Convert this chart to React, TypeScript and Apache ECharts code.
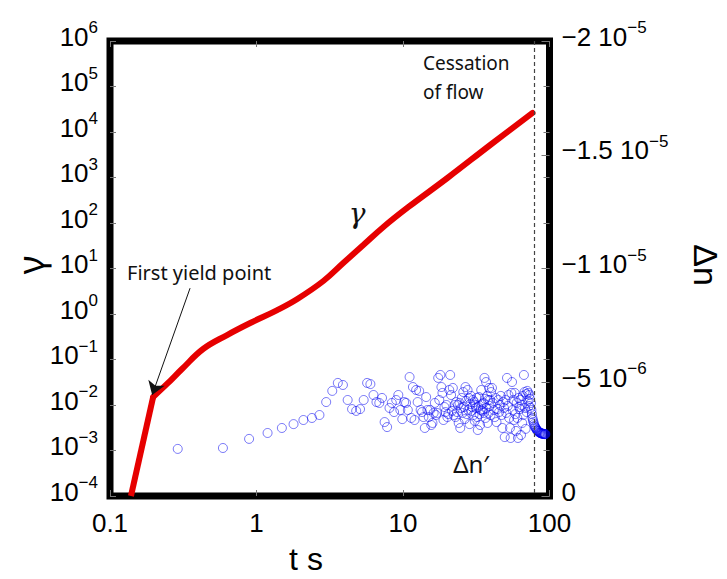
import React, { useEffect, useRef } from "react";
import * as echarts from "echarts";

// γ(t): strain vs time (s) — steep rise up to the first yield point, then the flow curve
const gammaRiseT = [0.139, 0.197];
const gammaRiseV = [1e-4, 0.015];
const gammaFlowT = [0.197, 0.245, 0.31, 0.432, 0.63, 0.906, 1.385, 1.9, 2.86, 3.91, 5.36, 7.35, 10.9, 20.1, 40.2, 76.6];
const gammaFlowV = [0.015, 0.029, 0.0618, 0.17, 0.345, 0.634, 1.22, 2.14, 5.31, 13.2, 32.8, 81.7, 225, 975, 5450, 26200];

// Δn′ (×10⁻⁶) vs time (s)
const dnEarly: number[][] = [
  [0.29, -2.07], [0.59, -2.11], [0.89, -2.51], [1.19, -2.77], [1.49, -2.99], [1.79, -3.16], [2.09, -3.34], [2.39, -3.43],
  [2.69, -3.56], [2.99, -4.13], [3.29, -4.62], [3.59, -4.97], [3.89, -4.88], [4.19, -4.22], [4.49, -3.82], [4.79, -3.74],
  [5.09, -3.82], [5.39, -4.22], [5.69, -4.97], [5.99, -4.92], [6.29, -4.44], [6.59, -4.13], [6.89, -4.09], [7.19, -4.31],
  [7.49, -3.25], [7.79, -3.03], [8.09, -3.87], [8.39, -4.09], [8.69, -3.69], [8.99, -4.22], [9.29, -4.44], [9.59, -3.78],
  [9.89, -3.38], [10.19, -4.13], [10.49, -4.09], [10.79, -3.78], [11.09, -5.23], [11.39, -3.43], [11.69, -4.79], [11.99, -3.34],
  [12.29, -4.66], [12.59, -4.13], [12.89, -4.62], [13.19, -3.78], [13.49, -3.69], [13.79, -3.47], [14.09, -2.99], [14.39, -4.35],
  [14.69, -3.78], [14.99, -3.47], [15.29, -3.78], [15.59, -3.12], [15.89, -3.21], [16.19, -3.65], [16.49, -4.09], [16.79, -3.56],
  [17.09, -3.65], [17.39, -5.19], [17.69, -4.22], [17.99, -5.32], [18.29, -4.79], [18.59, -4.53], [18.89, -3.34], [19.19, -3.91],
  [19.49, -3.69], [19.79, -4.0], [20.09, -3.47], [20.39, -3.6], [20.69, -4.66],
];
const dnMid: number[][] = [
  [20.99, -5.32], [21.29, -4.44], [21.59, -3.74], [21.89, -4.75], [22.19, -3.56], [22.49, -4.0], [22.79, -3.47], [23.09, -4.13],
  [23.39, -3.69], [23.69, -4.0], [23.99, -3.21], [24.29, -4.09], [24.59, -2.99], [24.89, -3.87], [25.19, -4.31], [25.49, -3.65],
  [25.79, -4.57], [26.09, -3.91], [26.39, -3.38], [26.69, -4.79], [26.99, -4.18], [27.29, -3.6], [27.59, -4.66], [27.89, -3.78],
  [28.19, -4.31], [28.49, -3.16], [28.79, -4.04], [29.09, -4.4], [29.39, -3.74], [29.69, -3.91], [29.99, -4.22], [30.29, -3.56],
  [30.59, -4.13], [30.89, -3.3], [31.19, -4.0], [31.49, -3.87], [31.79, -4.31], [32.09, -3.47], [32.39, -2.9], [32.69, -3.91],
  [32.99, -4.35], [33.29, -3.6], [33.59, -3.12], [33.89, -3.78], [34.19, -4.66], [34.49, -4.04], [34.79, -3.74], [35.09, -3.82],
  [35.39, -4.09], [35.69, -3.65], [35.99, -5.19], [36.29, -4.27], [36.59, -3.43], [36.89, -5.01], [37.19, -3.87], [37.49, -4.4],
  [37.79, -3.21], [38.09, -4.22], [38.39, -3.65], [38.69, -4.75], [38.99, -3.96], [39.29, -4.22], [39.59, -3.56], [39.89, -4.57],
];
const dnLate: number[][] = [
  [40.49, -4.75], [41.09, -4.09], [41.69, -3.78], [42.29, -3.47], [42.89, -4.31], [43.49, -3.25], [44.09, -3.82], [44.69, -4.22],
  [45.29, -3.69], [45.89, -4.0], [46.49, -4.4], [47.09, -3.56], [47.69, -2.99], [48.29, -4.13], [48.89, -3.87], [49.49, -2.59],
  [50.09, -4.22], [50.69, -3.65], [51.29, -5.19], [51.89, -3.96], [52.49, -4.44], [53.09, -3.43], [53.69, -2.99], [54.29, -2.55],
  [54.89, -4.53], [55.49, -5.01], [56.09, -3.78], [56.69, -4.22], [57.29, -3.34], [57.89, -4.53], [58.49, -3.6], [59.09, -2.86],
  [59.69, -4.09], [60.29, -3.43], [60.89, -2.55], [61.49, -4.31], [62.09, -3.91], [62.69, -3.82], [63.29, -4.22], [63.89, -2.68],
  [64.49, -4.0], [65.09, -3.21], [65.69, -4.4], [66.29, -3.56], [66.89, -5.32], [67.49, -4.57], [68.09, -3.87], [68.69, -2.95],
  [69.29, -4.48], [69.89, -3.69], [70.49, -4.62], [71.09, -4.18], [71.69, -4.53], [72.29, -3.96], [72.89, -4.44], [73.49, -4.27],
  [74.09, -3.87], [74.69, -4.09], [75.29, -3.78], [75.89, -3.6], [76.49, -3.43],
];
const dnTail: number[][] = [
  [77.0, -3.34], [77.7, -3.25], [78.4, -3.16], [79.1, -3.08], [79.8, -3.03], [80.5, -2.99], [81.2, -2.95], [81.9, -2.9],
  [82.6, -2.88], [83.3, -2.86], [84.0, -2.84], [84.7, -2.81], [85.4, -2.79], [86.1, -2.78], [86.8, -2.77], [87.5, -2.76],
  [88.2, -2.75], [88.9, -2.74], [89.6, -2.74], [90.3, -2.73], [91.0, -2.73], [91.7, -2.73], [92.4, -2.72], [93.1, -2.72],
  [93.8, -2.72],
];

const cessationT = 79;
const yieldArrowFrom = [0.352, 3.7];
const yieldArrowTo = [0.194, 0.0166];

const xTickValues = [0.1, 1, 10, 100];
const xTickLabels = ["0.1", "1", "10", "100"];
const rightTickValues = [0, -5, -10, -15, -20];
const rightTickMant = ["0", "\u22125", "\u22121", "\u22121.5", "\u22122"];
const rightTickExp = ["", "\u22126", "\u22125", "\u22125", "\u22125"];

const TICK_FONT = "Liberation Sans";
const ANNOT_FONT = "Noto Sans";
const RED = "#e60000";

const rich = {
  b: { fontSize: 26, fontFamily: TICK_FONT, color: "#000", padding: [0, 0, 9, 0] },
  s: { fontSize: 17, fontFamily: TICK_FONT, color: "#000", padding: [0, 0, 27, 0] },
};

export default function App() {
  const ref = useRef<HTMLDivElement>(null);
  useEffect(() => {
    const chart = echarts.init(ref.current!, null, { renderer: "svg" });
    const tickStyle = { show: true, inside: true, length: 6, lineStyle: { color: "#777", width: 1 } };
    const textStyle = (align: string) => ({
      align,
      textAlign: align,
      verticalAlign: "middle",
      textVerticalAlign: "middle",
    });
    const option: any = {
      animation: false,
      backgroundColor: "#fff",
      grid: {
        left: 110,
        right: 177.5,
        top: 41,
        bottom: 83,
        containLabel: false,
        outerBoundsMode: "none",
        show: true,
        borderWidth: 7,
        borderColor: "#000",
        backgroundColor: "transparent",
      },
      xAxis: [
        {
          type: "log",
          logBase: 10,
          min: 0.1,
          max: 100,
          splitNumber: 3,
          position: "bottom",
          axisLine: { show: false },
          axisTick: tickStyle,
          splitLine: { show: false },
          axisLabel: {
            margin: 14,
            fontSize: 26,
            fontFamily: TICK_FONT,
            color: "#000",
            formatter: (v: number) => {
              let best = 0;
              xTickValues.forEach((tv, i) => {
                if (Math.abs(Math.log10(tv) - Math.log10(v)) < Math.abs(Math.log10(xTickValues[best]) - Math.log10(v))) best = i;
              });
              return xTickLabels[best];
            },
          },
        },
        {
          type: "log",
          logBase: 10,
          min: 0.1,
          max: 100,
          splitNumber: 3,
          position: "top",
          axisLine: { show: false },
          axisTick: tickStyle,
          splitLine: { show: false },
          axisLabel: { show: false },
        },
      ],
      yAxis: [
        {
          type: "log",
          logBase: 10,
          min: 1e-4,
          max: 1e6,
          splitNumber: 10,
          position: "left",
          axisLine: { show: false },
          axisTick: tickStyle,
          splitLine: { show: false },
          axisLabel: {
            margin: 12,
            formatter: (v: number) => {
              const e = Math.round(Math.log10(v));
              const es = e < 0 ? "\u2212" + -e : String(e);
              return `{b|10}{s|${es}}`;
            },
            rich,
          },
        },
        {
          type: "log",
          logBase: 10,
          min: 1e-4,
          max: 1e6,
          splitNumber: 10,
          position: "right",
          axisLine: { show: false },
          axisTick: tickStyle,
          splitLine: { show: false },
          axisLabel: { show: false },
        },
        {
          type: "value",
          min: -20,
          max: 0,
          interval: 5,
          inverse: true,
          position: "right",
          axisLine: { show: false },
          axisTick: { show: true, inside: true, length: 8, lineStyle: { color: "#777", width: 1 } },
          splitLine: { show: false },
          axisLabel: {
            margin: 12,
            formatter: (v: number) => {
              const i = rightTickValues.findIndex((tv) => Math.abs(tv - v) < 1e-6);
              if (i < 0) return "";
              if (!rightTickExp[i]) return `{b|${rightTickMant[i]}}`;
              return `{b|${rightTickMant[i]} 10}{s|${rightTickExp[i]}}`;
            },
            rich,
          },
        },
      ],
      series: [
        {
          type: "scatter",
          xAxisIndex: 0,
          yAxisIndex: 2,
          symbol: "circle",
          symbolSize: 9,
          itemStyle: { color: "rgba(0,0,0,0)", borderColor: "rgba(0,0,240,0.65)", borderWidth: 1 },
          data: [...dnEarly, ...dnMid, ...dnLate, ...dnTail],
          markLine: {
            silent: true,
            symbol: "none",
            label: { show: false },
            lineStyle: { type: [4, 3], color: "#444", width: 1.2 },
            data: [{ xAxis: cessationT }],
          },
          z: 3,
        },
        {
          type: "line",
          xAxisIndex: 0,
          yAxisIndex: 0,
          showSymbol: false,
          symbol: "none",
          lineStyle: { color: RED, width: 6 },
          data: gammaRiseT.map((t, i) => [t, gammaRiseV[i]]),
          z: 4,
        },
        {
          type: "line",
          xAxisIndex: 0,
          yAxisIndex: 0,
          showSymbol: false,
          symbol: "none",
          smooth: 0.4,
          lineStyle: { color: RED, width: 6, cap: "round" },
          data: gammaFlowT.map((t, i) => [t, gammaFlowV[i]]),
          markLine: {
            silent: true,
            symbol: ["none", "arrow"],
            symbolSize: 13,
            label: { show: false },
            lineStyle: { type: "solid", color: "#111", width: 1 },
            data: [[{ coord: yieldArrowFrom }, { coord: yieldArrowTo }]],
          },
          z: 4,
        },
      ],
      graphic: [
        {
          type: "text",
          x: 127,
          y: 272,
          z: 10,
          style: { text: "First yield point", font: `20px "${ANNOT_FONT}"`, fill: "#111", ...textStyle("left") },
        },
        {
          type: "text",
          x: 423,
          y: 77,
          z: 10,
          style: { text: "Cessation\nof flow", font: `19px "${ANNOT_FONT}"`, lineHeight: 29, fill: "#111", ...textStyle("left") },
        },
        {
          type: "text",
          x: 357,
          y: 213,
          z: 10,
          style: { text: "\u03b3", font: `italic 28px "DejaVu Serif"`, fill: "#111", ...textStyle("center") },
        },
        {
          type: "text",
          x: 471,
          y: 463,
          z: 10,
          style: { text: "\u0394n\u2032", font: `24px "${ANNOT_FONT}"`, fill: "#111", ...textStyle("center") },
        },
        {
          type: "text",
          x: 306,
          y: 559,
          z: 10,
          style: { text: "t s", font: `32px "${TICK_FONT}"`, fill: "#000", ...textStyle("center") },
        },
        {
          type: "text",
          x: 30,
          y: 265,
          rotation: Math.PI / 2,
          z: 10,
          style: { text: "\u03b3", font: `36px "${ANNOT_FONT}"`, fill: "#000", ...textStyle("center") },
        },
        {
          type: "text",
          x: 706,
          y: 265,
          rotation: -Math.PI / 2,
          z: 10,
          style: { text: "\u0394n", font: `34px "${TICK_FONT}"`, fill: "#000", ...textStyle("center") },
        },
      ],
    };
    chart.setOption(option);
    return () => chart.dispose();
  }, []);
  return <div ref={ref} style={{ position: "absolute", left: 0, top: 0, width: 727, height: 579 }} />;
}
